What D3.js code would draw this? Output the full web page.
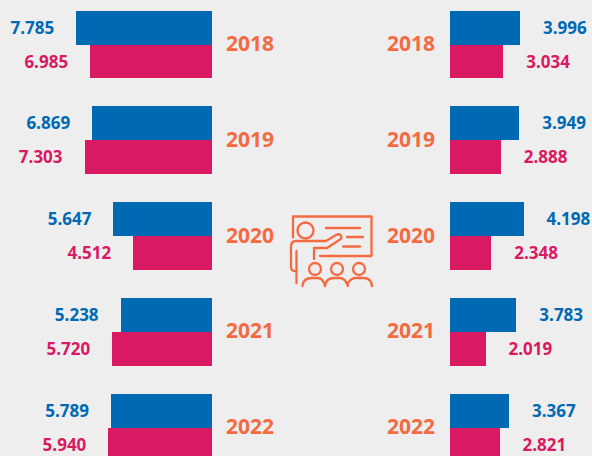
<!DOCTYPE html>
<html>
<head>
<meta charset="utf-8">
<script src="https://cdn.jsdelivr.net/npm/d3@7"></script>
<style>
  html, body { margin: 0; padding: 0; background: #eeeeee; overflow: hidden; }
  text { font-family: "Open Sans", sans-serif; font-weight: 700; }
</style>
</head>
<body>
<div id="chart"></div>
<script>
// Values
let years = ["2018", "2019", "2020", "2021", "2022"];
let leftBlue = [7.785, 6.869, 5.647, 5.238, 5.789];
let leftPink = [6.985, 7.303, 4.512, 5.720, 5.940];
let rightBlue = [3.996, 3.949, 4.198, 3.783, 3.367];
let rightPink = [3.034, 2.888, 2.348, 2.019, 2.821];

let svgWidth = 592;
let svgHeight = 456;
let blue = "#0069b4";
let pink = "#d91a63";
let orange = "#f46b42";

let svg = d3
  .select("#chart")
  .append("svg")
  .attr("width", svgWidth)
  .attr("height", svgHeight)
  .style("display", "block");

// same px per unit on both sides, one grows left and the other right
let xLeft = d3.scaleLinear().domain([0, 8]).range([212, 72.4]);
let xRight = d3.scaleLinear().domain([0, 8]).range([450.3, 589.9]);

// each year band holds the two stacked bars
let rowStep = 95.75;
let rowGap = 28.15;
let yBand = d3
  .scaleBand()
  .domain(years)
  .range([10.7, 10.7 + rowStep * years.length - rowGap])
  .paddingInner(rowGap / rowStep)
  .paddingOuter(0);

function drawSide(values, xScale, color, rowOffset, anchor, gap) {
  let h = yBand.bandwidth() / 2;
  let group = svg.append("g");

  group
    .selectAll("rect")
    .data(values)
    .enter()
    .append("rect")
    .attr("x", d => Math.min(xScale(0), xScale(d)))
    .attr("y", (d, i) => yBand(years[i]) + rowOffset * h)
    .attr("width", d => Math.abs(xScale(d) - xScale(0)))
    .attr("height", h)
    .attr("fill", color)
    .attr("shape-rendering", "crispEdges");

  group
    .selectAll("text")
    .data(values)
    .enter()
    .append("text")
    .attr("x", d => xScale(d) + gap)
    .attr("y", (d, i) => yBand(years[i]) + rowOffset * h + h / 2)
    .attr("dy", "0.36em")
    .attr("text-anchor", anchor)
    .attr("font-size", 17)
    .attr("fill", color)
    .text(d => d.toFixed(3));
}

drawSide(leftBlue, xLeft, blue, 0, "end", -22);
drawSide(leftPink, xLeft, pink, 1, "end", -22);
drawSide(rightBlue, xRight, blue, 0, "start", 23);
drawSide(rightPink, xRight, pink, 1, "start", 23);

// year labels, left and right of the middle
[250, 411].forEach(function(x) {
  svg
    .append("g")
    .selectAll("text")
    .data(years)
    .enter()
    .append("text")
    .attr("x", x)
    .attr("y", d => yBand(d) + yBand.bandwidth() / 2 - 1)
    .attr("dy", "0.36em")
    .attr("text-anchor", "middle")
    .attr("font-size", 21)
    .attr("fill", orange)
    .text(d => d);
});

// teacher and audience icon
let icon = svg
  .append("g")
  .attr("fill", "none")
  .attr("stroke", orange)
  .attr("stroke-width", 2.3)
  .attr("stroke-linecap", "round")
  .attr("stroke-linejoin", "round");

let iconPaths = [
  "M293 237.5V216.5H371.5V256H320",
  "M326 228H360",
  "M347 237H363",
  "M343 246.5H360",
  "M296.5 283V251",
  "M314 259V248H327L340 239.5Q342.5 237.5 340.5 235Q339 233.5 336 235L326 241H296Q291 241 291 247V267Q291 271 295 271",
  "M302.5 286Q303 278 312 278H318Q323 278 325 286",
  "M325 286Q326 278 334 278H340Q345 278 348 286",
  "M348 283Q351 278 356 278H364Q371 278 372 286"
];
iconPaths.forEach(function(p) {
  icon.append("path").attr("d", p);
});

let iconCircles = [[305.5, 230.5, 8], [315, 269, 6], [337, 269, 6], [359, 269, 6]];
iconCircles.forEach(function(c) {
  icon.append("circle").attr("cx", c[0]).attr("cy", c[1]).attr("r", c[2]);
});
</script>
</body>
</html>
